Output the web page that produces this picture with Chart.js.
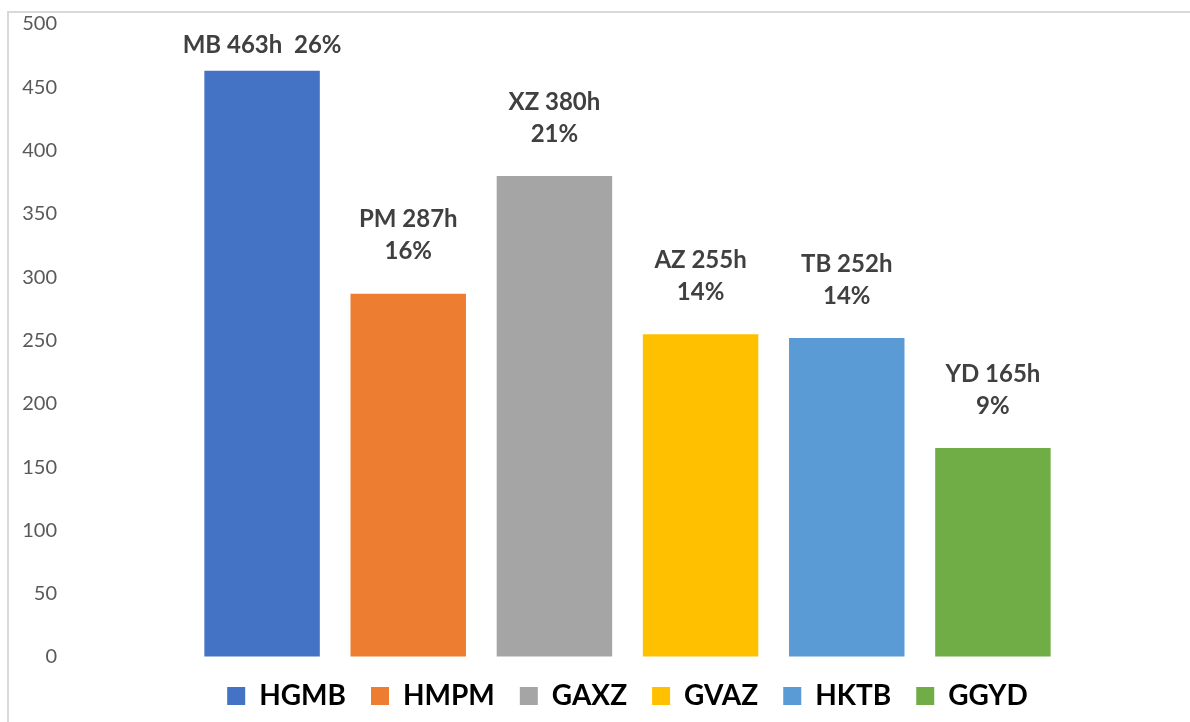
<!DOCTYPE html>
<html>
<head>
<meta charset="utf-8">
<script src="https://cdn.jsdelivr.net/npm/chart.js@4/dist/chart.umd.min.js"></script>
<style>
  html, body { margin: 0; padding: 0; background: #fff; }
  #frame { position: absolute; left: 7px; top: 11px; width: 1300px; height: 800px;
           border-left: 2px solid #d9d9d9; border-top: 2px solid #d9d9d9; }
  #wrap { position: absolute; left: 0; top: 0; width: 1190px; height: 722px; }
</style>
</head>
<body>
<div id="frame"></div>
<div id="wrap"><canvas id="barras"></canvas></div>
<script>
'use strict'

const categorias = ['HGMB','HMPM','GAXZ','GVAZ','HKTB','GGYD']
const codigos = ['MB','PM','XZ','AZ','TB','YD']
const horas = [463,287,380,255,252,165]
const colores = ['#4472C4','#ED7D31','#A5A5A5','#FFC000','#5B9BD5','#70AD47']
const ticksY = [0,50,100,150,200,250,300,350,400,450,500]

const total = horas.reduce((a,b)=>a+b,0)
// texto de cada etiqueta (la primera va en una sola linea)
const etiquetas = horas.map((h,i)=>{
  const pct = Math.round(h/total*100)+'%'
  const txt = codigos[i]+' '+h+'h'
  return i===0 ? [txt+'  '+pct] : [txt,pct]
})

const etiquetasPlugin = {
  id: 'etiquetas',
  afterDatasetsDraw(chart){
    const ctx = chart.ctx
    const meta = chart.getDatasetMeta(0)
    ctx.save()
    ctx.font = 'bold 24px Lato'
    ctx.fillStyle = '#404040'
    ctx.textAlign = 'center'
    ctx.textBaseline = 'middle'
    meta.data.forEach((bar,i)=>{
      const lineas = etiquetas[i]
      const base = bar.y - (i===0 ? 26 : 42)
      lineas.forEach((l,j)=>{
        ctx.fillText(l, bar.x, base - (lineas.length-1-j)*32)
      })
    })
    ctx.restore()
  }
}

const data = {
  labels: categorias,
  datasets: [{
    data: horas,
    backgroundColor: colores,
    borderWidth: 0,
    categoryPercentage: 1,
    barPercentage: 0.79
  }]
}

const config = {
  type: 'bar',
  data: data,
  options: {
    responsive: true,
    maintainAspectRatio: false,
    animation: false,
    layout: { padding: { top: 24, right: 124, bottom: 2, left: 0 } },
    scales: {
      x: { display: false },
      y: {
        min: 0, max: 500,
        afterBuildTicks(scale){ scale.ticks = ticksY.map(v=>({value:v})) },
        afterFit(scale){ scale.width = 189 },
        // marcas invisibles para separar los numeros del area de barras
        grid: { display: true, drawOnChartArea: false, drawTicks: true, tickLength: 132, color: 'rgba(0,0,0,0)' },
        border: { display: false },
        ticks: { padding: 0, color: '#595959', font: { family: 'Lato', size: 20 } }
      }
    },
    plugins: {
      tooltip: { enabled: false },
      legend: {
        position: 'bottom',
        fullSize: false,
        labels: {
          boxWidth: 18,
          boxHeight: 18,
          padding: 25,
          color: '#0d0d0d',
          font: { family: 'Lato', size: 28, weight: 'bold' },
          generateLabels(chart){
            return categorias.map((c,i)=>({
              text: c, fillStyle: colores[i], strokeStyle: colores[i], lineWidth: 0, index: i, hidden: false
            }))
          }
        }
      }
    }
  },
  plugins: [etiquetasPlugin]
}

let barras = new Chart(document.querySelector('#barras'), config)
</script>
</body>
</html>
